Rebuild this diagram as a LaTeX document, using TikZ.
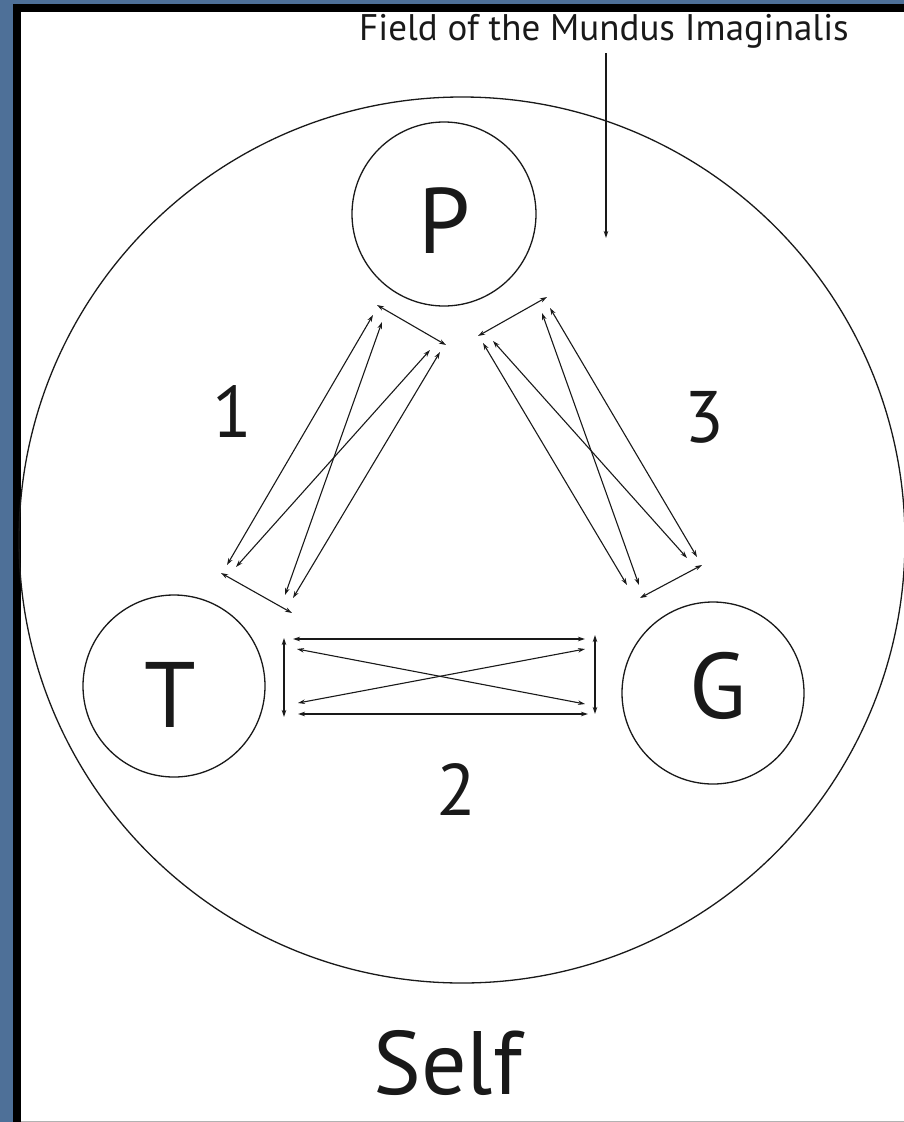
\documentclass[tikz,border=0pt]{standalone}
\usepackage{fontspec}
\setmainfont{PT Sans}
\usetikzlibrary{arrows.meta}
\definecolor{bgblue}{RGB}{78,112,152}
\definecolor{inkc}{RGB}{25,25,25}
\tikzset{
  ring/.style={circle,draw=inkc,line width=1.3pt,inner sep=0pt},
  letter/.style={inner sep=0pt,text=inkc,font=\fontsize{93}{93}\selectfont},
  num/.style={inner sep=0pt,text=inkc,font=\fontsize{73}{73}\selectfont},
  dbl/.style={draw=inkc,line width=1.1pt,{Stealth[length=7pt,width=4.5pt]}-{Stealth[length=7pt,width=4.5pt]}},
  sgl/.style={draw=inkc,line width=1.1pt,-{Stealth[length=7pt,width=4.5pt]}}
}
\begin{document}
\begin{tikzpicture}[x=1pt,y=-1pt]
\useasboundingbox (0,0) rectangle (904,1122);
\fill[bgblue] (0,0) rectangle (904,1122);
\fill[black] (13,4) rectangle (904,1122);
\fill[white] (21,12) rectangle (904,1121);
\fill[black!30] (21,1121) rectangle (904,1122);

% big circle
\node[ring,minimum size=886pt] (self) at (462,540) {};
% small circles
\node[ring,minimum size=184pt] (P) at (444,214) {};
\node[ring,minimum size=182pt] (T) at (174,686) {};
\node[ring,minimum size=182pt] (G) at (713,693) {};
\node[letter] (Pl) at (444,220.5) {P};
\node[letter] (Tl) at (170.5,695) {T};
\node[letter] (Gl) at (718,685.5) {G};

% numbers
\node[num] (n1) at (232,412) {1};
\node[num] (n3) at (704,417) {3};
\node[num] (n2) at (456,790) {2};

% Self
\node[inner sep=0pt,text=inkc,font=\fontsize{90}{90}\selectfont] (selfl) at (447.5,1063) {Self};

% Field label and pointer
\node[inner sep=0pt,text=inkc,font=\fontsize{37}{37}\selectfont] (field) at (604,31) {Field of the Mundus Imaginalis};
\coordinate (fa) at (606,53);
\coordinate (fb) at (606,238);
\draw[sgl] (fa) -- (fb);

% side 1 (P - T)
\coordinate (p1s) at (377,305); \coordinate (p1e) at (446,345);
\coordinate (t1s) at (221,573); \coordinate (t1e) at (292,613);
\draw[dbl] (p1s) -- (p1e);
\draw[dbl] (t1s) -- (t1e);
\coordinate (a1) at (373,315); \coordinate (a2) at (227,565);
\coordinate (b1) at (382,322); \coordinate (b2) at (285,595);
\coordinate (c1) at (430,350); \coordinate (c2) at (236,567);
\coordinate (d1) at (440,352); \coordinate (d2) at (293,598);
\draw[dbl] (a1) -- (a2);
\draw[dbl] (b1) -- (b2);
\draw[dbl] (c1) -- (c2);
\draw[dbl] (d1) -- (d2);

% side 3 (P - G)
\coordinate (p3s) at (478,336); \coordinate (p3e) at (547,297);
\coordinate (g3s) at (640,598); \coordinate (g3e) at (702,565);
\draw[dbl] (p3s) -- (p3e);
\draw[dbl] (g3s) -- (g3e);
\coordinate (e1) at (483,343); \coordinate (e2) at (627,585);
\coordinate (f1) at (493,341); \coordinate (f2) at (687,558);
\coordinate (g1) at (542,313); \coordinate (g2) at (639,585);
\coordinate (h1) at (550,308); \coordinate (h2) at (697,557);
\draw[dbl] (e1) -- (e2);
\draw[dbl] (f1) -- (f2);
\draw[dbl] (g1) -- (g2);
\draw[dbl] (h1) -- (h2);

% side 2 (T - G)
\coordinate (lv1) at (284,638); \coordinate (lv2) at (284,717);
\coordinate (rv1) at (595,635); \coordinate (rv2) at (595,714);
\coordinate (th1) at (293,639); \coordinate (th2) at (585,639);
\coordinate (bh1) at (298,714); \coordinate (bh2) at (588,714);
\coordinate (x1) at (297,649); \coordinate (x2) at (585,704);
\coordinate (y1) at (298,703); \coordinate (y2) at (585,649);
\draw[dbl] (lv1) -- (lv2);
\draw[dbl] (rv1) -- (rv2);
\draw[dbl] (th1) -- (th2);
\draw[dbl] (bh1) -- (bh2);
\draw[dbl] (x1) -- (x2);
\draw[dbl] (y1) -- (y2);
\end{tikzpicture}
\end{document}
